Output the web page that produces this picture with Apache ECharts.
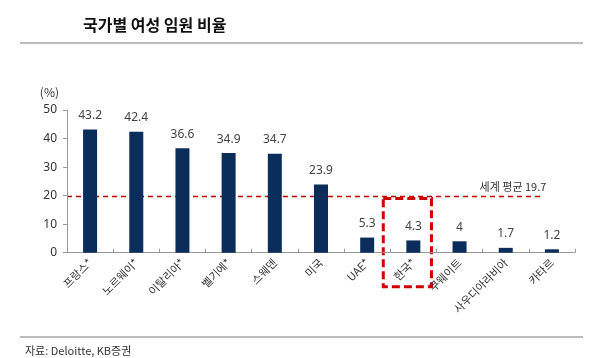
<!DOCTYPE html>
<html><head><meta charset="utf-8">
<script src="https://cdn.jsdelivr.net/npm/echarts@6/dist/echarts.min.js"></script>
<style>html,body{margin:0;padding:0;background:#fff}#c{width:600px;height:358px}</style>
</head><body><div id="c"></div>
<script>
const categories = ['프랑스*','노르웨이*','이탈리아*','벨기에*','스웨덴','미국','UAE*','한국*','쿠웨이트','사우디아라비아','카타르'];
const values = [43.2,42.4,36.6,34.9,34.7,23.9,5.3,4.3,4,1.7,1.2];
const worldAvg = 19.7;
const avgLabel = '세계 평균 19.7';
const highlight = '한국*';

const FONT = '"Noto Sans CJK KR","Noto Sans",sans-serif';
const chart = echarts.init(document.getElementById('c'), null, {renderer:'canvas'});
const option = {
  animation:false,
  textStyle:{fontFamily:FONT},
  grid:{left:67,right:25,top:110,bottom:105.3,containLabel:false},
  xAxis:{type:'category',data:categories,
    axisLine:{lineStyle:{color:'#999',width:1}},
    axisTick:{show:true,inside:true,length:4,lineStyle:{color:'#999'}},
    axisLabel:{rotate:45,fontSize:11,color:'#333',margin:8,fontFamily:FONT,interval:0}},
  yAxis:{type:'value',min:0,max:50,interval:10,name:'(%)',nameLocation:'end',
    nameGap:12,nameTextStyle:{color:'#333',fontSize:12,align:'right',padding:[0,8,0,0]},
    axisLine:{show:true,lineStyle:{color:'#999'}},
    axisTick:{show:true,length:4,lineStyle:{color:'#999'}},
    splitLine:{show:false},
    axisLabel:{fontSize:12,color:'#333',margin:10,fontFamily:'"Noto Sans",sans-serif'}},
  title:[
    {text:'국가별 여성 임원 비율',left:78,top:12,textStyle:{fontSize:16,fontWeight:'bold',color:'#111',fontFamily:FONT}},
    {text:'자료: Deloitte, KB증권',left:20,top:340,textStyle:{fontSize:11,fontWeight:'normal',color:'#333',fontFamily:FONT}}
  ],
  series:[{type:'bar',data:values,barWidth:14,
    itemStyle:{color:'#0b2d5b'},
    label:{show:true,position:'top',distance:8,fontSize:12,color:'#444',fontFamily:'"Noto Sans",sans-serif'}}]
};
chart.setOption(option);

function addGraphics(){
  const yAvg = chart.convertToPixel({yAxisIndex:0}, worldAvg);
  const x0 = chart.convertToPixel({xAxisIndex:0}, categories[0]);
  const x1 = chart.convertToPixel({xAxisIndex:0}, categories[1]);
  const band = x1 - x0;
  const xLast = chart.convertToPixel({xAxisIndex:0}, categories[categories.length-2]);
  const lineEnd = xLast + band*0.75;
  const xH = chart.convertToPixel({xAxisIndex:0}, highlight);
  const yZero = chart.convertToPixel({yAxisIndex:0}, 0);
  chart.setOption({graphic:{elements:[
    {id:'topRule',type:'line',shape:{x1:20,y1:43,x2:583,y2:43},style:{stroke:'#bcbcbc',lineWidth:2,lineDash:null}},
    {id:'botRule',type:'line',shape:{x1:20,y1:337,x2:583,y2:337},style:{stroke:'#bcbcbc',lineWidth:2,lineDash:null}},
    {id:'avgLine',type:'line',shape:{x1:67,y1:yAvg,x2:lineEnd,y2:yAvg},style:{stroke:'#c00000',lineWidth:1.5,lineDash:[5,4]}},
    {id:'avgText',type:'text',style:{text:avgLabel,x:lineEnd+6,y:yAvg-4,align:'right',verticalAlign:'bottom',fill:'#333',font:'11px '+FONT}},
    {id:'hlRect',type:'rect',shape:{x:xH-band*0.5-7,y:yAvg+2,width:band+2,height:(yZero-yAvg)+32},
      style:{fill:'none',stroke:'#d00000',lineWidth:3,lineDash:[8,4]}}
  ]}});
}
addGraphics();
</script></body></html>
